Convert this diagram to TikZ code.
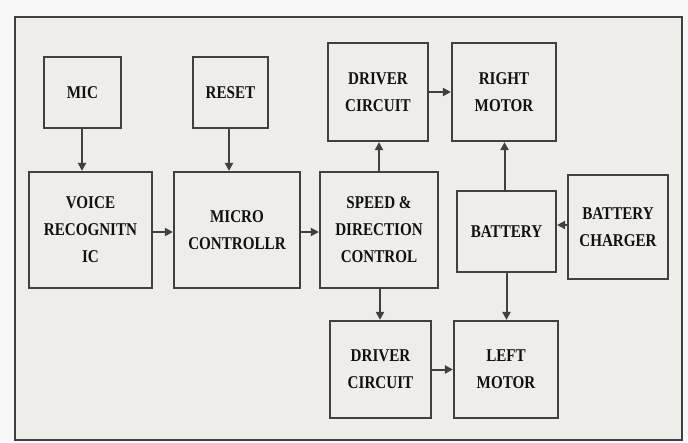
\documentclass[tikz,border=0pt]{standalone}
\usepackage{fontspec}
\setmainfont{Liberation Serif}[FakeStretch=0.84]
\usetikzlibrary{arrows.meta}
\definecolor{bgin}{HTML}{EFEDEA}
\definecolor{bgout}{HTML}{F8F8F8}
\definecolor{boxline}{HTML}{404040}
\definecolor{txt}{HTML}{111111}
\tikzset{
  blk/.style={draw=boxline, line width=2.2pt, rectangle, align=center, inner sep=0pt,
    text=txt, font=\fontsize{18}{27}\selectfont\bfseries},
  conn/.style={draw=boxline, line width=2pt, -{Triangle[length=8pt,width=8pt]}},
}
\begin{document}
\begin{tikzpicture}[x=1pt,y=-1pt]
\fill[bgout] (0,0) rectangle (688,442);
\useasboundingbox (0,0) rectangle (688,442);
\draw[fill=bgin, draw=boxline, line width=2.4pt] (15,17) rectangle (682,440);

\node[blk, minimum width=77pt, minimum height=71pt] (mic) at (82.5,92.5) {MIC};
\node[blk, minimum width=75pt, minimum height=71pt] (reset) at (230.5,92.5) {RESET};
\node[blk, minimum width=123pt, minimum height=116pt] (voice) at (90.5,230) {VOICE\\RECOGNITN\\IC};
\node[blk, minimum width=126pt, minimum height=116pt] (micro) at (237,230) {MICRO\\CONTROLLR};
\node[blk, minimum width=118pt, minimum height=116pt] (speed) at (379,230) {SPEED \&\\DIRECTION\\CONTROL};
\node[blk, minimum width=100pt, minimum height=98pt] (drv1) at (378,92) {DRIVER\\CIRCUIT};
\node[blk, minimum width=104pt, minimum height=98pt] (right) at (504,92) {RIGHT\\MOTOR};
\node[blk, minimum width=99pt, minimum height=81pt] (battery) at (506.5,231.5) {BATTERY};
\node[blk, minimum width=100pt, minimum height=104pt] (charger) at (618,227) {BATTERY\\CHARGER};
\node[blk, minimum width=101pt, minimum height=97pt] (drv2) at (380.5,369.5) {DRIVER\\CIRCUIT};
\node[blk, minimum width=104pt, minimum height=97pt] (left) at (506,369.5) {LEFT\\MOTOR};

\draw[conn] ([xshift=-0.5pt]mic.south) -- ([xshift=-0.5pt]mic.south |- voice.north);
\draw[conn] ([xshift=-1.5pt]reset.south) -- ([xshift=-1.5pt]reset.south |- micro.north);
\draw[conn] ([yshift=-2pt]voice.east) -- ([yshift=-2pt]voice.east -| micro.west);
\draw[conn] ([yshift=-2pt]micro.east) -- ([yshift=-2pt]micro.east -| speed.west);
\draw[conn] (speed.north) -- (speed.north |- drv1.south);
\draw[conn] (drv1.east) -- (drv1.east -| right.west);
\draw[conn] ([xshift=-2pt]battery.north) -- ([xshift=-2pt]battery.north |- right.south);
\draw[conn] ([yshift=2pt]charger.west) -- ([yshift=2pt]charger.west -| battery.east);
\draw[conn] ([xshift=1pt]speed.south) -- ([xshift=1pt]speed.south |- drv2.north);
\draw[conn] (battery.south) -- (battery.south |- left.north);
\draw[conn] (drv2.east) -- (drv2.east -| left.west);
\end{tikzpicture}
\end{document}
